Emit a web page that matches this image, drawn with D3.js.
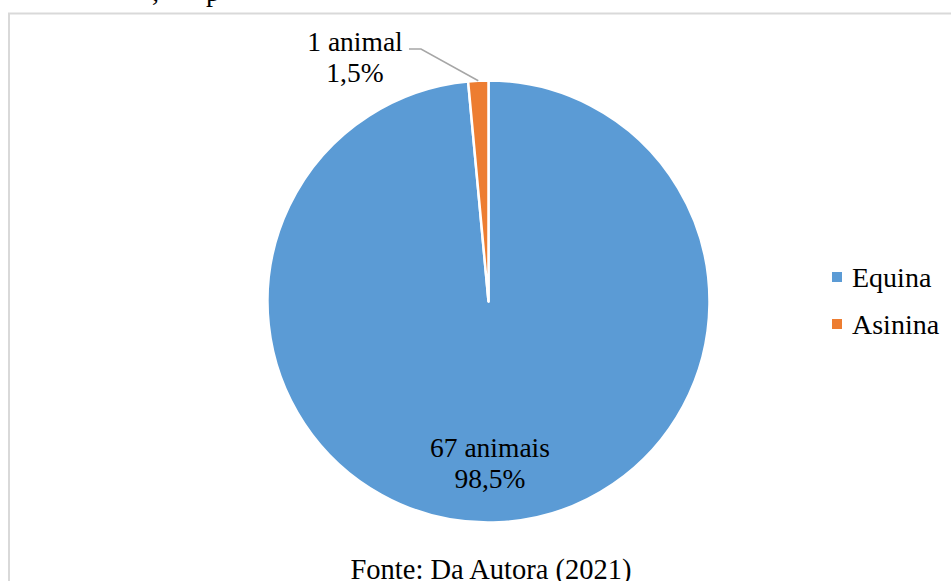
<!DOCTYPE html>
<html>
<head>
<meta charset="utf-8">
<script src="https://cdn.jsdelivr.net/npm/d3@7"></script>
<style>
  html, body { margin: 0; padding: 0; background: #fff; }
  svg { display: block; }
  text { font-family: "Liberation Serif", "Times New Roman", serif; fill: #000; }
</style>
</head>
<body>
<svg id="chart" width="951" height="581"></svg>
<script>
// Animals by species
const categories = ["Equina", "Asinina"];
const counts = [67, 1];
const countLabels = ["67 animais", "1 animal"];
const percentLabels = ["98,5%", "1,5%"];
const colors = ["#5b9bd5", "#ed7d31"];
const source = "Fonte: Da Autora (2021)";

const svg = d3.select("#chart");
const W = 951, H = 581;

// fragment of the caption line sitting above the frame
svg.append("text").attr("x", 152).attr("y", 1).attr("font-size", 28).text(",");
svg.append("text").attr("x", 206).attr("y", 1).attr("font-size", 28).text("p");

// chart frame
svg.append("rect")
  .attr("x", 9).attr("y", 13.5)
  .attr("width", 960).attr("height", 600)
  .attr("fill", "none").attr("stroke", "#d9d9d9").attr("stroke-width", 2);

const cx = 488.5, cy = 301.5, r = 221;
const g = svg.append("g").attr("transform", `translate(${cx},${cy})`);

const data = categories.map((c, i) => ({ name: c, value: counts[i], color: colors[i],
  countLabel: countLabels[i], pct: percentLabels[i] }));

const pie = d3.pie().sort(null).value(d => d.value);
const arcs = pie(data);
const arc = d3.arc().innerRadius(0).outerRadius(r);

g.selectAll("path.slice")
  .data(arcs)
  .join("path")
  .attr("class", "slice")
  .attr("d", arc)
  .attr("fill", d => d.data.color)
  .attr("stroke", "#fff")
  .attr("stroke-width", 2.5)
  .attr("stroke-linejoin", "round");

// inside label for the large slice
const big = arcs[0];
const inLabel = svg.append("text")
  .attr("text-anchor", "middle")
  .attr("font-size", 27.5);
inLabel.append("tspan").attr("x", 490).attr("y", 457).text(big.data.countLabel);
inLabel.append("tspan").attr("x", 490).attr("y", 488).text(big.data.pct);

// outside label for the small slice, with leader line
const small = arcs[1];
const mid = (small.startAngle + small.endAngle) / 2;
const edge = [cx + Math.sin(mid) * r, cy - Math.cos(mid) * r];
svg.append("polyline")
  .attr("points", [[409, 49], [421, 49], edge].map(p => p.join(",")).join(" "))
  .attr("fill", "none")
  .attr("stroke", "#a6a6a6")
  .attr("stroke-width", 1.5);

const outLabel = svg.append("text")
  .attr("text-anchor", "middle")
  .attr("font-size", 27.5);
outLabel.append("tspan").attr("x", 355).attr("y", 51).text(small.data.countLabel);
outLabel.append("tspan").attr("x", 355).attr("y", 82).text(small.data.pct);

// legend
const legend = svg.append("g").attr("transform", "translate(832,272)");
const items = legend.selectAll("g")
  .data(data)
  .join("g")
  .attr("transform", (d, i) => `translate(0,${i * 47})`);
items.append("rect")
  .attr("width", 10).attr("height", 10)
  .attr("fill", d => d.color);
items.append("text")
  .attr("x", 20).attr("y", 15)
  .attr("font-size", 28)
  .text(d => d.name);

// source line
svg.append("text")
  .attr("x", 491).attr("y", 579)
  .attr("text-anchor", "middle")
  .attr("font-size", 28.5)
  .text(source);
</script>
</body>
</html>
